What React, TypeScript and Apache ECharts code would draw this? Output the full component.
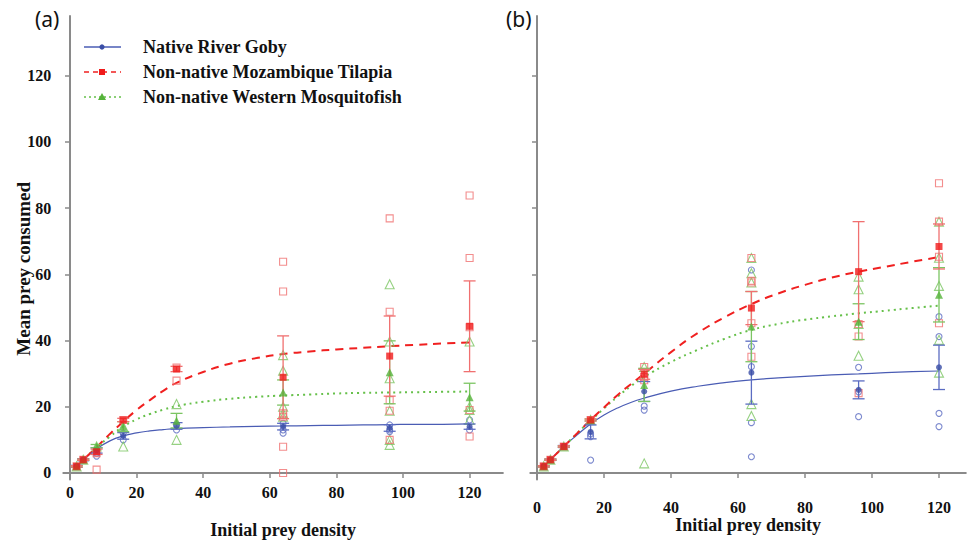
import React, { useEffect, useRef } from "react";
import * as echarts from "echarts";

// ---------- data ----------
const densities = [2, 4, 8, 16, 32, 64, 96, 120];
const tickValues = [0, 20, 40, 60, 80, 100, 120];

// panel (a)
const gobyMeanA = [2, 4, 6.8, 11.2, 14.2, 14, 13.6, 14];
const gobySeA = [0.3, 0.3, 0.8, 1.0, 1.0, 1.0, 1.0, 0.8];
const tilapiaMeanA = [2, 4, 6.4, 16, 31.4, 28.9, 35.3, 44.3];
const tilapiaSeA = [0.2, 0.2, 0.8, 0.5, 0.8, 12.5, 12.1, 13.7];
const mosquitoMeanA = [2, 4, 8.1, 14, 15.8, 24.3, 30.4, 22.9];
const mosquitoSeA = [0.2, 0.2, 0.5, 1.5, 2.2, 3.8, 9.5, 4.2];

// panel (b)
const gobyMeanB = [2, 4, 8, 12.4, 24.6, 30.3, 25.1, 31.9];
const gobySeB = [0.2, 0.2, 0.3, 2.1, 3.0, 9.5, 2.7, 6.7];
const tilapiaMeanB = [2, 4, 8, 16, 29.8, 49.8, 60.8, 68.4];
const tilapiaSeB = [0.2, 0.2, 0.2, 0.3, 1.5, 5.0, 15.1, 6.8];
const mosquitoMeanB = [2, 4, 8, 16, 26.6, 44.2, 45.7, 53.8];
const mosquitoSeB = [0.2, 0.2, 0.2, 0.3, 5, 10.6, 5.4, 8.2];

// individual trials [density, consumed]
const gobyObsA = [[2, 2], [4, 4], [8, 5.1], [8, 6], [16, 10], [16, 12], [32, 13], [32, 14.5], [64, 15], [64, 12], [64, 13], [96, 14.5], [96, 13], [96, 12.5], [120, 16], [120, 13]];
const tilapiaObsA = [[2, 2], [4, 4], [8, 1], [8, 6], [16, 16], [32, 31.8], [32, 27.9], [64, 63.8], [64, 54.8], [64, 18], [64, 17], [64, 7.9], [64, 0], [96, 76.9], [96, 48.7], [96, 22], [96, 18.8], [96, 10], [120, 83.8], [120, 64.9], [120, 44], [120, 19], [120, 11]];
const mosquitoObsA = [[2, 2], [4, 4], [8, 8], [16, 14], [16, 8], [32, 20.8], [32, 10], [64, 35.6], [64, 30.9], [64, 20], [64, 18], [64, 17], [96, 57], [96, 39.7], [96, 28.6], [96, 18.8], [96, 10], [96, 8.5], [120, 39.7], [120, 20], [120, 19], [120, 16]];
const gobyObsB = [[2, 2], [4, 4], [8, 8], [16, 11.8], [16, 11], [16, 3.9], [32, 20.2], [32, 19], [64, 61.3], [64, 38.2], [64, 32.1], [64, 15.2], [64, 4.9], [96, 31.9], [96, 24.5], [96, 17], [120, 47.2], [120, 41.2], [120, 18], [120, 14]];
const tilapiaObsB = [[2, 2], [4, 4], [8, 8], [16, 16], [32, 32], [32, 29], [32, 28], [64, 64.9], [64, 58], [64, 57.5], [64, 45.2], [64, 35.1], [96, 45], [96, 41.2], [96, 24.1], [120, 87.5], [120, 75.9], [120, 65.3], [120, 45.2]];
const mosquitoObsB = [[2, 2], [4, 4], [8, 8], [16, 16], [32, 32], [32, 2.9], [64, 64.9], [64, 60.3], [64, 57.5], [64, 20.8], [64, 17.2], [96, 59.3], [96, 55.5], [96, 45], [96, 35.4], [120, 75.9], [120, 65], [120, 56.5], [120, 40.2], [120, 30.3]];

// fitted functional-response curves
const curveX = [2, 4, 8, 12, 16, 20, 24, 28, 32, 40, 48, 56, 64, 72, 80, 88, 96, 104, 112, 120];
const gobyCurveA = [2, 3.9, 7.3, 9.7, 11.2, 12.1, 12.7, 13.1, 13.4, 13.7, 13.9, 14.1, 14.2, 14.3, 14.4, 14.5, 14.6, 14.7, 14.7, 14.8];
const tilapiaCurveA = [2, 4, 7.8, 11.8, 15.5, 19, 22, 24.8, 27.2, 30.5, 33, 34.7, 35.9, 36.7, 37.3, 37.8, 38.3, 38.7, 39.1, 39.4];
const mosquitoCurveA = [2, 4, 7.7, 11, 14, 16.2, 17.8, 19.1, 20.2, 21.5, 22.4, 23, 23.4, 23.7, 24, 24.2, 24.3, 24.4, 24.5, 24.6];
const gobyCurveB = [2, 4, 8, 11.5, 14.8, 17.5, 19.6, 21.3, 22.6, 24.7, 26.2, 27.3, 28.1, 28.7, 29.2, 29.6, 29.9, 30.3, 30.6, 30.8];
const tilapiaCurveB = [2, 4, 8, 12, 16, 19.8, 23.5, 26.8, 30, 36.5, 42.3, 47, 51, 54.2, 56.8, 59, 60.8, 62.3, 63.8, 65.2];
const mosquitoCurveB = [2, 4, 8, 12, 15.8, 19.5, 23, 26.2, 29, 33.5, 37.2, 40.5, 43.2, 45, 46.3, 47.3, 48.2, 49, 49.8, 50.5];

const legendNames = ["Native River Goby", "Non-native Mozambique Tilapia", "Non-native Western Mosquitofish"];

// ---------- styles ----------
const SERIF = "Liberation Serif";
const C = {
  goby: { main: "#3a4ea6", light: "#5b6cc2", line: "#4a5cb4" },
  tilapia: { main: "#f01a1a", light: "#f07070", line: "#f02020" },
  mosquito: { main: "#55b33a", light: "#7cc563", line: "#66c04a" },
};

type Spec = {
  key: "goby" | "tilapia" | "mosquito";
  mean: number[];
  se: number[];
  obs: number[][];
  curve: number[];
  symbol: string;
  size: number;
  obsSize: number;
  lineType: any;
  lineWidth: number;
};

function panelSeries(p: number, specs: Spec[]) {
  const out: any[] = [];
  specs.forEach((s) => {
    const col = C[s.key];
    out.push({
      type: "line",
      xAxisIndex: p,
      yAxisIndex: p,
      data: curveX.map((x, i) => [x, s.curve[i]]),
      smooth: true,
      showSymbol: false,
      symbol: "none",
      lineStyle: { color: col.line, width: s.lineWidth, type: s.lineType },
      z: 2,
      silent: true,
    });
    out.push({
      type: "scatter",
      xAxisIndex: p,
      yAxisIndex: p,
      data: s.obs,
      symbol: s.symbol,
      symbolSize: s.obsSize,
      itemStyle: { color: "rgba(0,0,0,0)", borderColor: col.light, borderWidth: 1.1 },
      z: 3,
    });
    out.push({
      type: "custom",
      xAxisIndex: p,
      yAxisIndex: p,
      data: densities.map((x, i) => [x, s.mean[i] - s.se[i], s.mean[i] + s.se[i]]),
      renderItem: (params: any, api: any) => {
        const x = api.value(0);
        const lo = api.coord([x, api.value(1)]);
        const hi = api.coord([x, api.value(2)]);
        const w = 6;
        const st = { stroke: col.light, lineWidth: 1.3 };
        return {
          type: "group",
          children: [
            { type: "line", shape: { x1: hi[0], y1: hi[1], x2: lo[0], y2: lo[1] }, style: st },
            { type: "line", shape: { x1: hi[0] - w, y1: hi[1], x2: hi[0] + w, y2: hi[1] }, style: st },
            { type: "line", shape: { x1: lo[0] - w, y1: lo[1], x2: lo[0] + w, y2: lo[1] }, style: st },
          ],
        };
      },
      z: 4,
    });
    out.push({
      type: "scatter",
      xAxisIndex: p,
      yAxisIndex: p,
      data: densities.map((x, i) => [x, s.mean[i]]),
      symbol: s.symbol,
      symbolSize: s.size,
      itemStyle: { color: col.main },
      z: 5,
    });
  });
  return out;
}

function makeSpecs(which: "A" | "B"): Spec[] {
  const A = which === "A";
  return [
    {
      key: "goby", mean: A ? gobyMeanA : gobyMeanB, se: A ? gobySeA : gobySeB, obs: A ? gobyObsA : gobyObsB,
      curve: A ? gobyCurveA : gobyCurveB, symbol: "circle", size: 6, obsSize: 6, lineType: "solid", lineWidth: 1.2,
    },
    {
      key: "mosquito", mean: A ? mosquitoMeanA : mosquitoMeanB, se: A ? mosquitoSeA : mosquitoSeB, obs: A ? mosquitoObsA : mosquitoObsB,
      curve: A ? mosquitoCurveA : mosquitoCurveB, symbol: "triangle", size: 8, obsSize: 9, lineType: [2, 4], lineWidth: 2,
    },
    {
      key: "tilapia", mean: A ? tilapiaMeanA : tilapiaMeanB, se: A ? tilapiaSeA : tilapiaSeB, obs: A ? tilapiaObsA : tilapiaObsB,
      curve: A ? tilapiaCurveA : tilapiaCurveB, symbol: "rect", size: 7, obsSize: 7, lineType: [8, 6], lineWidth: 2,
    },
  ];
}

const tickRich = {
  t: { fontFamily: SERIF, fontWeight: "bold", fontSize: 16, color: "#111" },
};

function xAxisCfg(grid: number, labelMargin: number, nameGap: number) {
  return {
    type: "value",
    gridIndex: grid,
    min: -2,
    max: grid === 0 ? 130 : 128,
    name: "Initial prey density",
    nameLocation: "middle",
    nameGap,
    nameMoveOverlap: false,
    nameTextStyle: { fontFamily: SERIF, fontWeight: "bold", fontSize: 18, color: "#111" },
    axisLine: { onZero: true, lineStyle: { color: "#8a8a8a", width: 2 } },
    axisTick: { show: true, length: 5, customValues: tickValues, lineStyle: { color: "#8a8a8a", width: 1.5 } },
    axisLabel: {
      customValues: tickValues,
      margin: labelMargin,
      fontFamily: SERIF,
      fontWeight: "bold",
      fontSize: 16,
      color: "#111",
      formatter: (v: number) => `{t|${v}}`,
      rich: tickRich,
    },
    splitLine: { show: false },
  };
}

function yAxisCfg(grid: number) {
  return {
    type: "value",
    gridIndex: grid,
    min: -2,
    max: 138,
    name: grid === 0 ? "Mean prey consumed" : "",
    nameLocation: "middle",
    nameGap: 30,
    nameMoveOverlap: false,
    nameTextStyle: { fontFamily: SERIF, fontWeight: "bold", fontSize: 19, color: "#111", padding: [0, 42, 0, 0] },
    axisLine: { onZero: true, lineStyle: { color: "#8a8a8a", width: 2 } },
    axisTick: { show: true, length: 5, customValues: tickValues, lineStyle: { color: "#8a8a8a", width: 1.5 } },
    axisLabel: {
      show: grid === 0,
      customValues: tickValues,
      margin: 12,
      fontFamily: SERIF,
      fontWeight: "bold",
      fontSize: 16,
      color: "#111",
      formatter: (v: number) => `{t|${v}}`,
      rich: tickRich,
    },
    splitLine: { show: false },
  };
}

function legendGraphics() {
  const rows = [
    { name: legendNames[0], col: C.goby, dash: null as any, mark: "circle" },
    { name: legendNames[1], col: C.tilapia, dash: [5, 4], mark: "rect" },
    { name: legendNames[2], col: C.mosquito, dash: [2, 3], mark: "triangle" },
  ];
  const els: any[] = [];
  rows.forEach((r, i) => {
    const y = 47 + i * 25;
    els.push({
      type: "line",
      shape: { x1: 84, y1: y, x2: 121, y2: y },
      style: { stroke: r.col.line, lineWidth: r.mark === "circle" ? 1.5 : 1.6, lineDash: r.dash || undefined },
    });
    if (r.mark === "circle") {
      els.push({ type: "circle", shape: { cx: 102, cy: y, r: 2.6 }, style: { fill: r.col.main } });
    } else if (r.mark === "rect") {
      els.push({ type: "rect", shape: { x: 99, y: y - 3, width: 6, height: 6 }, style: { fill: r.col.main } });
    } else {
      els.push({ type: "polygon", shape: { points: [[102, y - 4], [98, y + 3], [106, y + 3]] }, style: { fill: r.col.main } });
    }
    els.push({
      type: "text",
      x: 143,
      y,
      style: {
        text: r.name,
        fontFamily: SERIF,
        fontWeight: "bold",
        fontSize: 18,
        fill: "#111",
        verticalAlign: "middle",
      },
    });
  });
  els.push({
    type: "text", x: 35, y: 19,
    style: { text: "(a)", fontFamily: "Noto Sans", fontSize: 21, fill: "#111", verticalAlign: "middle" },
  });
  els.push({
    type: "text", x: 506, y: 19,
    style: { text: "(b)", fontFamily: "Noto Sans", fontSize: 21, fill: "#111", verticalAlign: "middle" },
  });
  return els;
}

export default function App() {
  const ref = useRef<HTMLDivElement>(null);
  useEffect(() => {
    if (!ref.current) return;
    const chart = echarts.init(ref.current, null, { renderer: "svg" });
    const option: any = {
      animation: false,
      backgroundColor: "#ffffff",
      textStyle: { fontFamily: SERIF },
      grid: [
        { left: 63.3, top: 16, width: 439.6, height: 463.6, outerBoundsMode: "none", containLabel: false },
        { left: 530.3, top: 16, width: 435.5, height: 463.6, outerBoundsMode: "none", containLabel: false },
      ],
      xAxis: [xAxisCfg(0, 5, 41), xAxisCfg(1, 20, 36)],
      yAxis: [yAxisCfg(0), yAxisCfg(1)],
      series: [...panelSeries(0, makeSpecs("A")), ...panelSeries(1, makeSpecs("B"))],
      graphic: legendGraphics(),
    };
    chart.setOption(option);
    return () => chart.dispose();
  }, []);
  return (
    <div
      ref={ref}
      style={{ position: "absolute", left: 0, top: 0, width: 971, height: 543, background: "#fff" }}
    />
  );
}
